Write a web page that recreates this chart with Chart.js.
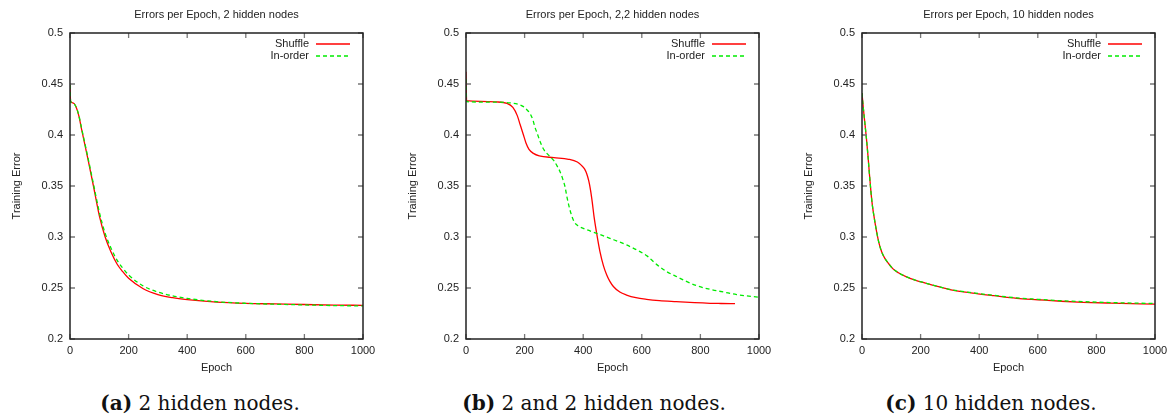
<!DOCTYPE html>
<html>
<head>
<meta charset="utf-8">
<script src="https://cdn.jsdelivr.net/npm/chart.js@4.4.0/dist/chart.umd.min.js"></script>
<style>
    html, body { margin: 0; padding: 0; background: #fff; overflow: hidden; width: 1172px; height: 419px; }
    .panel { position: absolute; top: 0; width: 433px; height: 380px; }
    .caption { position: absolute; top: 391px; width: 300px; text-align: center; white-space: nowrap;
               font-family: "DejaVu Serif", serif; font-size: 20px; color: #111; }
</style>
</head>
<body>
<div class="panel" style="left:0px"><canvas id="chartA" width="433" height="380"></canvas></div>
<div class="panel" style="left:396px"><canvas id="chartB" width="433" height="380"></canvas></div>
<div class="panel" style="left:792px"><canvas id="chartC" width="433" height="380"></canvas></div>
<div class="caption" style="left:50px"><b>(a)</b> 2 hidden nodes.</div>
<div class="caption" style="left:444px"><b>(b)</b> 2 and 2 hidden nodes.</div>
<div class="caption" style="left:841px"><b>(c)</b> 10 hidden nodes.</div>
<script>
// training error

// (a) 2 hidden nodes
var epochsA = [0, 2, 10, 20, 30, 40, 60, 80, 100, 120, 140, 160, 180, 200, 250, 300, 350, 400, 500, 600, 700, 800, 900, 1000];
var shuffleA = [0.449, 0.433, 0.4315, 0.428, 0.419, 0.405, 0.378, 0.350, 0.321, 0.300, 0.2853, 0.2738, 0.266, 0.2595, 0.2493, 0.2436, 0.2405, 0.2386, 0.2362, 0.2350, 0.2344, 0.2338, 0.2333, 0.2330];
var inorderA = [0.449, 0.433, 0.4315, 0.428, 0.4195, 0.406, 0.3795, 0.352, 0.3245, 0.3035, 0.289, 0.2775, 0.2695, 0.2628, 0.2520, 0.2460, 0.2423, 0.2398, 0.2366, 0.2350, 0.2341, 0.2334, 0.2328, 0.2324];

// (b) 2,2 hidden nodes (shuffle run stops around epoch 918)
var epochsShuffleB = [0, 2, 50, 100, 140, 160, 175, 185, 195, 205, 215, 230, 250, 300, 350, 380, 395, 405, 412, 419, 425, 431, 437, 446, 457, 469, 480, 491, 503, 525, 548, 580, 616, 660, 718, 780, 833, 870, 918];
var shuffleB = [0.462, 0.4336, 0.433, 0.4325, 0.431, 0.427, 0.419, 0.410, 0.401, 0.392, 0.386, 0.382, 0.3795, 0.3778, 0.3762, 0.3735, 0.370, 0.3665, 0.362, 0.355, 0.346, 0.334, 0.320, 0.3036, 0.286, 0.272, 0.263, 0.2565, 0.2515, 0.246, 0.2431, 0.2405, 0.2389, 0.2376, 0.2366, 0.2356, 0.2350, 0.2348, 0.2346];
var epochsInorderB = [0, 2, 100, 150, 180, 196, 210, 218, 228, 235, 245, 253, 265, 276, 290, 300, 312, 321, 330, 338, 344, 350, 360, 370, 385, 400, 446, 491, 548, 594, 620, 640, 660, 685, 720, 754, 790, 833, 880, 924, 1000];
var inorderB = [0.455, 0.4327, 0.4322, 0.4315, 0.430, 0.4278, 0.424, 0.4213, 0.415, 0.408, 0.400, 0.3935, 0.386, 0.382, 0.378, 0.3748, 0.369, 0.364, 0.357, 0.3493, 0.340, 0.332, 0.3215, 0.3145, 0.3105, 0.3085, 0.3036, 0.2987, 0.2922, 0.2856, 0.281, 0.2758, 0.271, 0.266, 0.261, 0.2562, 0.252, 0.2487, 0.246, 0.2435, 0.2409];

// (c) 10 hidden nodes
var epochsC = [0, 5, 10, 15, 20, 25, 30, 35, 40, 50, 58, 67, 78, 90, 105, 124, 150, 181, 220, 261, 300, 386, 450, 528, 600, 680, 755, 850, 1000];
var shuffleC = [0.441, 0.425, 0.411, 0.397, 0.381, 0.363, 0.346, 0.332, 0.322, 0.305, 0.294, 0.2856, 0.279, 0.2742, 0.269, 0.265, 0.2612, 0.2578, 0.2545, 0.2513, 0.2485, 0.2448, 0.2425, 0.2399, 0.2385, 0.2370, 0.2360, 0.2352, 0.2342];
var inorderC = [0.441, 0.425, 0.411, 0.397, 0.381, 0.363, 0.346, 0.332, 0.322, 0.305, 0.294, 0.2856, 0.279, 0.2742, 0.269, 0.265, 0.2612, 0.2578, 0.2545, 0.2513, 0.2486, 0.2450, 0.2428, 0.2403, 0.2389, 0.2375, 0.2366, 0.2357, 0.2348];

var xTicks = [0, 1000, 200];      // min, max, step
var yTicks = [0.2, 0.5, 0.05];

var RED = 'rgb(255, 0, 0)';
var GREEN = 'rgb(0, 235, 0)';

Chart.defaults.font.family = '"Liberation Sans", Arial, sans-serif';
Chart.defaults.font.size = 11;
Chart.defaults.color = '#222';

// zip epochs and errors into {x, y} points
function toPoints(epochs, values) {
    let pts = [];
    for (let i = 0; i < epochs.length; i++) {
        pts.push({ x: epochs[i], y: values[i] });
    }
    return pts;
}

// gnuplot look: framed box, ticks pointing inwards on all four sides, key in the top right corner
var gnuplotFrame = {
    id: 'gnuplotFrame',
    afterDatasetsDraw: function (chart) {
        const ctx = chart.ctx;
        const area = chart.chartArea;
        const xs = chart.scales.x;
        const ys = chart.scales.y;
        ctx.save();
        ctx.strokeStyle = '#777';
        ctx.lineWidth = 1.3;
        ctx.beginPath();
        xs.ticks.forEach(function (t) {
            let px = xs.getPixelForValue(t.value);
            ctx.moveTo(px, area.bottom); ctx.lineTo(px, area.bottom - 5);
            ctx.moveTo(px, area.top); ctx.lineTo(px, area.top + 5);
        });
        ys.ticks.forEach(function (t) {
            let py = ys.getPixelForValue(t.value);
            ctx.moveTo(area.left, py); ctx.lineTo(area.left + 5, py);
            ctx.moveTo(area.right, py); ctx.lineTo(area.right - 5, py);
        });
        ctx.stroke();

        ctx.strokeStyle = '#222';
        ctx.lineWidth = 1.5;
        ctx.strokeRect(area.left, area.top, area.right - area.left, area.bottom - area.top);

        // key
        ctx.font = '11px "Liberation Sans", Arial, sans-serif';
        ctx.textAlign = 'right';
        ctx.textBaseline = 'middle';
        ctx.fillStyle = '#222';
        chart.data.datasets.forEach(function (ds, i) {
            let y = area.top + 11 + i * 12;
            ctx.fillText(ds.label, area.right - 54, y);
            ctx.strokeStyle = ds.borderColor;
            ctx.lineWidth = ds.borderWidth;
            ctx.setLineDash(ds.borderDash || []);
            ctx.beginPath();
            ctx.moveTo(area.right - 47, y);
            ctx.lineTo(area.right - 13, y);
            ctx.stroke();
            ctx.setLineDash([]);
        });
        ctx.restore();
    }
};

function drawPanel(canvasId, title, shufflePts, inorderPts) {
    const canvas = document.getElementById(canvasId);
    return new Chart(canvas, {
        type: 'line',
        data: {
            datasets: [
                {
                    label: 'Shuffle',
                    data: shufflePts,
                    borderColor: RED,
                    borderWidth: 1.3,
                    pointRadius: 0,
                    cubicInterpolationMode: 'monotone',
                    fill: false,
                    order: 1
                },
                {
                    label: 'In-order',
                    data: inorderPts,
                    borderColor: GREEN,
                    borderWidth: 1.3,
                    borderDash: [4, 3],
                    pointRadius: 0,
                    cubicInterpolationMode: 'monotone',
                    fill: false,
                    order: 0
                }
            ]
        },
        options: {
            responsive: false,
            animation: false,
            layout: { padding: { left: 0, right: 70, top: 0, bottom: 0 } },
            plugins: {
                legend: { display: false },
                tooltip: { enabled: false },
                title: {
                    display: true,
                    text: title,
                    fullSize: false,
                    font: { size: 11, weight: 'normal' },
                    color: '#222',
                    padding: { top: 8.4, bottom: 11.4 }
                }
            },
            scales: {
                x: {
                    type: 'linear',
                    min: xTicks[0],
                    max: xTicks[1],
                    ticks: {
                        stepSize: xTicks[2],
                        padding: 5,
                        color: '#222',
                        callback: function (v) { return String(v); }
                    },
                    grid: { display: false, drawTicks: false },
                    border: { display: false },
                    title: { display: true, text: 'Epoch', color: '#222', padding: { top: 0, bottom: 5.4 } },
                    afterFit: function (scale) { scale.height = 41; }
                },
                y: {
                    type: 'linear',
                    min: yTicks[0],
                    max: yTicks[1],
                    ticks: {
                        stepSize: yTicks[2],
                        padding: 7,
                        color: '#222',
                        callback: function (v) { return String(Math.round(v * 100) / 100); }
                    },
                    grid: { display: false, drawTicks: false },
                    border: { display: false },
                    title: { display: true, text: 'Training Error', color: '#222', padding: { top: 10, bottom: 0 } },
                    afterFit: function (scale) { scale.width = 70; }
                }
            }
        },
        plugins: [gnuplotFrame]
    });
}

drawPanel('chartA', 'Errors per Epoch, 2 hidden nodes', toPoints(epochsA, shuffleA), toPoints(epochsA, inorderA));
drawPanel('chartB', 'Errors per Epoch, 2,2 hidden nodes', toPoints(epochsShuffleB, shuffleB), toPoints(epochsInorderB, inorderB));
drawPanel('chartC', 'Errors per Epoch, 10 hidden nodes', toPoints(epochsC, shuffleC), toPoints(epochsC, inorderC));
</script>
</body>
</html>
